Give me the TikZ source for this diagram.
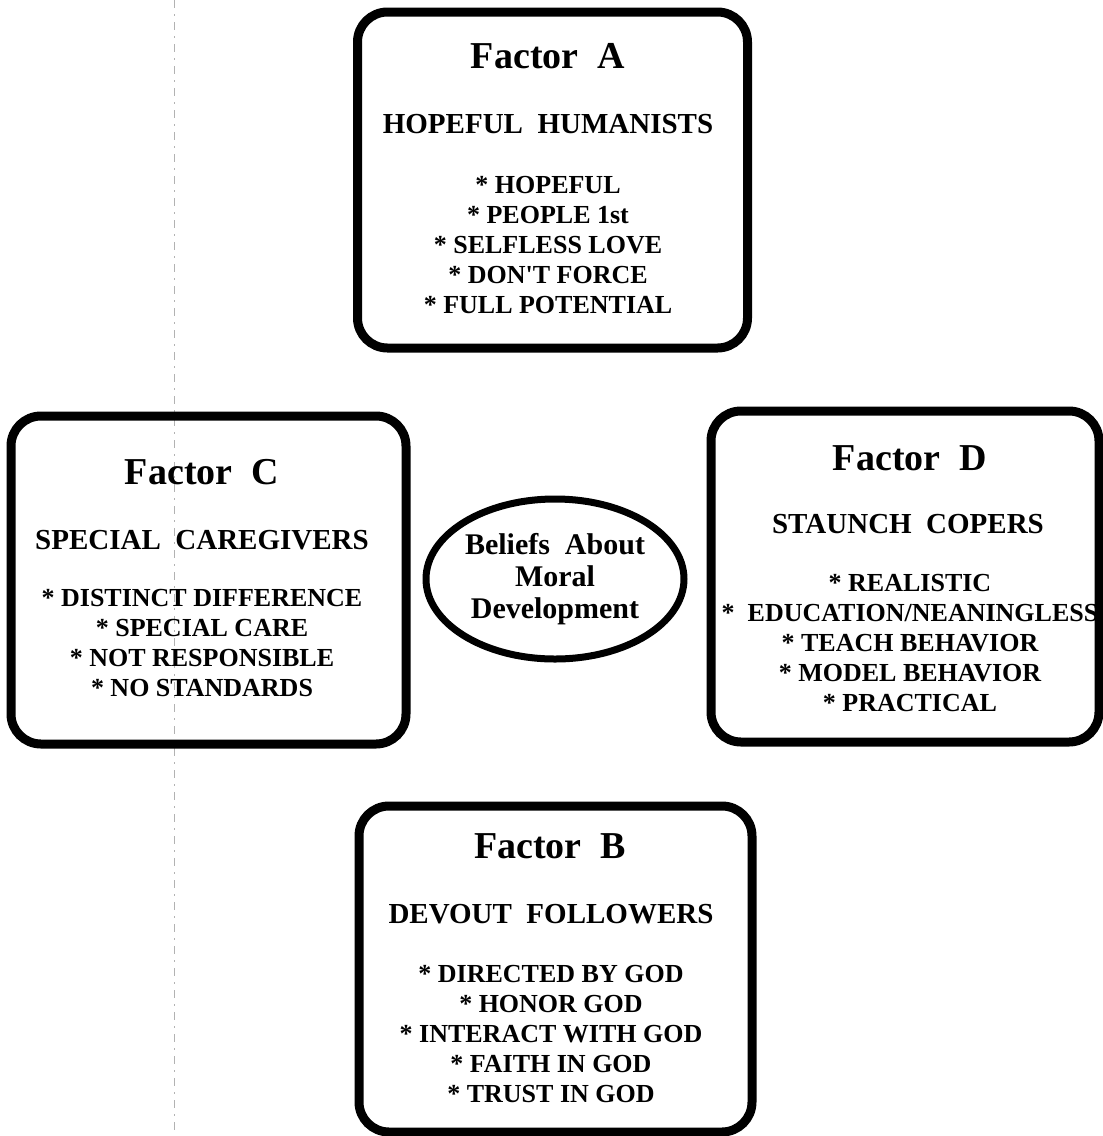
\documentclass[tikz,border=0pt]{standalone}
\usepackage{fontspec}
\setmainfont{Liberation Serif}
\usetikzlibrary{shapes.geometric}

\begin{document}
\begin{tikzpicture}[
  x=0.5pt, y=-0.5pt,
  factor/.style={draw,line width=4.5pt,rounded corners=15pt,inner sep=0pt},
  title/.style={font=\bfseries\fontsize{19}{22}\selectfont,inner sep=0pt},
  group/.style={font=\bfseries\fontsize{14.5}{17}\selectfont,inner sep=0pt},
  traits/.style={font=\bfseries\fontsize{13}{15}\selectfont,align=center,inner sep=0pt},
  core/.style={draw,ellipse,line width=3.5pt,inner sep=0pt,align=center,
    font=\bfseries\fontsize{15}{16}\selectfont}
]
  \useasboundingbox (0,0) rectangle (1103,1136);

  % faint fold mark of the scan
  \coordinate (foldtop) at (174,0);
  \coordinate (foldbot) at (174,1136);
  \draw[gray!60,line width=0.5pt,dash pattern=on 4pt off 3pt on 1pt off 3pt] (foldtop) -- (foldbot);

  % Factor A
  \node[factor,minimum width=195pt,minimum height=168pt] (boxA) at (552.5,180) {};
  \node[title] (titleA) at (548,56) {Factor\ \ A};
  \node[group] (groupA) at (548,124) {HOPEFUL\ \ HUMANISTS};
  \node[traits] (traitsA) at (548,245) {* HOPEFUL\\* PEOPLE 1st\\* SELFLESS LOVE\\* DON\textquotesingle T FORCE\\* FULL POTENTIAL};

  % Factor C
  \node[factor,minimum width=197.5pt,minimum height=164pt] (boxC) at (208.5,580) {};
  \node[title] (titleC) at (202,472) {Factor\ \ C};
  \node[group] (groupC) at (202,540) {SPECIAL\ \ CAREGIVERS};
  \node[traits] (traitsC) at (202,643) {* DISTINCT DIFFERENCE\\* SPECIAL CARE\\* NOT RESPONSIBLE\\* NO STANDARDS};

  % Factor D
  \node[factor,minimum width=194pt,minimum height=165.5pt] (boxD) at (905,576.5) {};
  \node[title] (titleD) at (910,458) {Factor\ \ D};
  \node[group] (groupD) at (908,524) {STAUNCH\ \ COPERS};
  \node[traits] (traitsD) at (910,643) {* REALISTIC\\*\ \ EDUCATION/NEANINGLESS\\* TEACH BEHAVIOR\\* MODEL BEHAVIOR\\* PRACTICAL};

  % Factor B
  \node[factor,minimum width=196.5pt,minimum height=163pt] (boxB) at (555.5,969) {};
  \node[title] (titleB) at (550,846) {Factor\ \ B};
  \node[group] (groupB) at (551,914) {DEVOUT\ \ FOLLOWERS};
  \node[traits] (traitsB) at (551,1034) {* DIRECTED BY GOD\\* HONOR GOD\\* INTERACT WITH GOD\\* FAITH IN GOD\\* TRUST IN GOD};

  % centre
  \node[core,minimum width=129pt,minimum height=80pt] (beliefs) at (555,579) {Beliefs\ \ About\\Moral\\Development};
\end{tikzpicture}
\end{document}
